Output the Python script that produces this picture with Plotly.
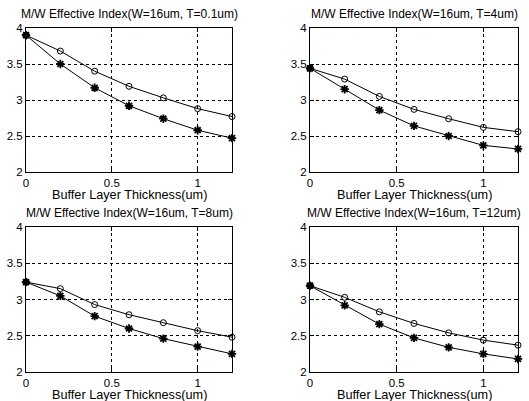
import plotly.graph_objects as go

x_thick = [0, 0.2, 0.4, 0.6, 0.8, 1.0, 1.2]
titles = [
    "M/W Effective Index(W=16um, T=0.1um)",
    "M/W Effective Index(W=16um, T=4um)",
    "M/W Effective Index(W=16um, T=8um)",
    "M/W Effective Index(W=16um, T=12um)",
]
circ_vals = [
    [3.90, 3.68, 3.40, 3.19, 3.03, 2.88, 2.77],
    [3.44, 3.29, 3.05, 2.87, 2.74, 2.62, 2.56],
    [3.24, 3.15, 2.93, 2.79, 2.68, 2.57, 2.48],
    [3.19, 3.03, 2.83, 2.67, 2.54, 2.44, 2.37],
]
star_vals = [
    [3.90, 3.50, 3.17, 2.92, 2.74, 2.58, 2.47],
    [3.44, 3.15, 2.86, 2.64, 2.50, 2.37, 2.32],
    [3.24, 3.05, 2.77, 2.60, 2.46, 2.35, 2.25],
    [3.19, 2.92, 2.66, 2.47, 2.34, 2.25, 2.18],
]
x_ticks = [0, 0.5, 1]
y_ticks = [2, 2.5, 3, 3.5, 4]
x_label = "Buffer Layer Thickness(um)"

W, H = 529, 401
boxes = [  # left, right, top, bottom in px
    (26, 232, 28, 172),
    (310, 518, 28, 172),
    (26, 232, 227, 372),
    (310, 518, 227, 372),
]

fig = go.Figure()
fam = "Liberation Sans, Arial, sans-serif"
font = dict(family=fam, size=11.5, color="black")
for i in range(4):
    xa = "x" if i == 0 else f"x{i+1}"
    ya = "y" if i == 0 else f"y{i+1}"
    fig.add_trace(go.Scatter(x=x_thick, y=circ_vals[i], xaxis=xa, yaxis=ya,
                             mode="lines+markers", line=dict(color="black", width=1),
                             marker=dict(symbol="circle-open", size=6, color="black", line=dict(width=1)),
                             showlegend=False, cliponaxis=False))
    fig.add_trace(go.Scatter(x=x_thick, y=star_vals[i], xaxis=xa, yaxis=ya,
                             mode="lines+markers", line=dict(color="black", width=1),
                             marker=dict(symbol="asterisk-open", size=7, color="black", line=dict(width=1.8, color="black")),
                             showlegend=False, cliponaxis=False))
    fig.add_trace(go.Scatter(x=[x_thick[0]], y=[circ_vals[i][0]], xaxis=xa, yaxis=ya,
                             mode="markers", marker=dict(symbol="circle", size=7, color="black"),
                             showlegend=False, cliponaxis=False))
    l, r, t, b = boxes[i]
    sfx = "" if i == 0 else str(i + 1)
    common = dict(showline=True, mirror="ticks", linecolor="black", linewidth=1,
                  ticks="inside", ticklen=4, tickcolor="black", automargin=False,
                  showgrid=True, gridcolor="black", griddash="dot", gridwidth=1,
                  zeroline=False, tickfont=font)
    fig.layout["xaxis" + sfx] = dict(domain=[l / W, r / W], anchor=ya, range=[0, 1.2],
                                     tickvals=x_ticks, ticktext=["0", "0.5", "1"],
                                     **common)
    fig.layout["yaxis" + sfx] = dict(domain=[1 - b / H, 1 - t / H], anchor=xa, range=[2, 4],
                                     tickvals=y_ticks, ticktext=["2", "2.5", "3", "3.5", "4"],
                                     **common)
    fig.add_annotation(x=(l + r) / 2 / W, y=1 - (t - 5) / H, xref="paper", yref="paper",
                       text=titles[i], showarrow=False, xanchor="center", yanchor="bottom",
                       font=dict(family=fam, size=12, color="black"))
    fig.add_annotation(x=(l + r) / 2 / W, y=1 - (b + 23) / H, xref="paper", yref="paper",
                       text=x_label, showarrow=False, xanchor="center", yanchor="middle",
                       font=dict(family=fam, size=12.7, color="black"))

fig.update_layout(width=W, height=H, margin=dict(l=0, r=0, t=0, b=0, autoexpand=False),
                  paper_bgcolor="white", plot_bgcolor="white")
fig.write_html("out.html", config={"displayModeBar": False},
               post_script="document.body.style.margin='0';document.body.style.overflow='hidden';")
